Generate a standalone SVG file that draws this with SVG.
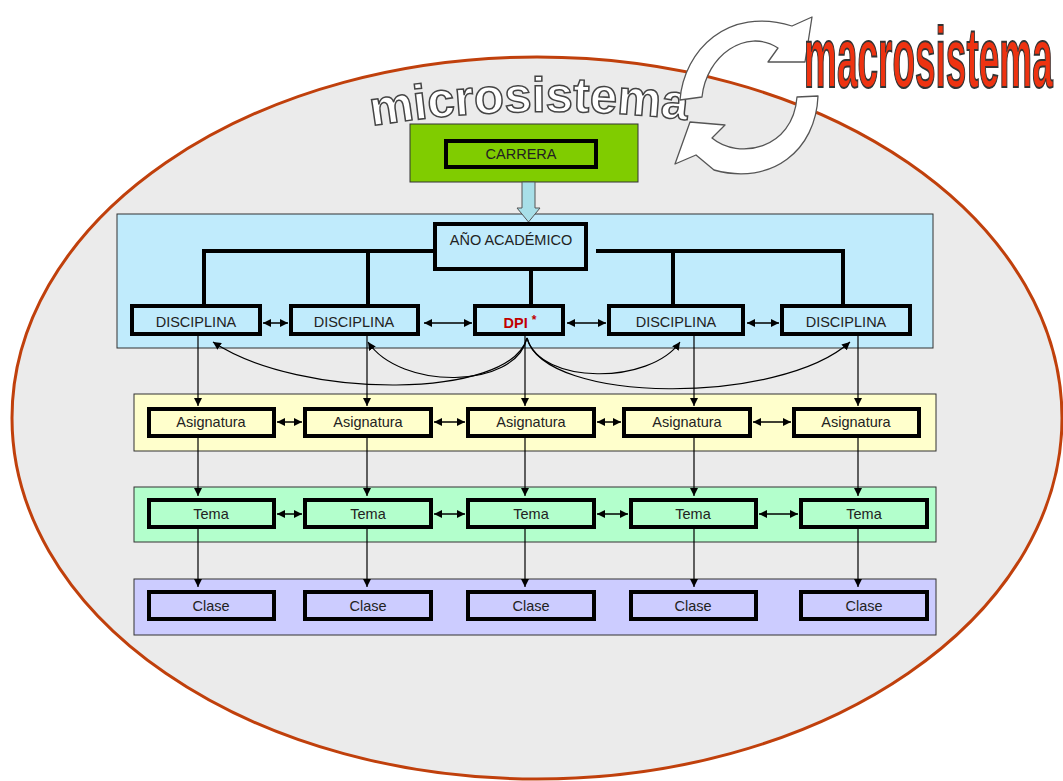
<svg xmlns="http://www.w3.org/2000/svg" width="1063" height="781" viewBox="0 0 1063 781">
<defs>
<marker id="ah" viewBox="0 0 8 8" refX="8" refY="4" markerWidth="8" markerHeight="8" markerUnits="userSpaceOnUse" orient="auto-start-reverse"><path d="M0,0 L8,4 L0,8 z" fill="#000"/></marker>
<path id="arcMicro" d="M 372 126 Q 530 100 694 121"/>
</defs>
<style>
.panel{stroke:#333;stroke-width:1}
.box{stroke:#000;stroke-width:4}
.t{font-family:"Liberation Sans",Arial,sans-serif;font-size:14.5px;fill:#222;text-anchor:middle}
.thick{stroke:#000;stroke-width:4;fill:none}
.dbl{stroke:#000;stroke-width:1.5;fill:none;marker-start:url(#ah);marker-end:url(#ah)}
.down{stroke:#000;stroke-width:1.2;fill:none;marker-end:url(#ah)}
.blue{fill:#c0ebfc}.yel{fill:#ffffcc}.grn{fill:#b3ffcc}.pur{fill:#ccccff}
</style>
<rect width="1063" height="781" fill="#fff"/>
<ellipse cx="537" cy="418" rx="525" ry="361" fill="#ebebeb" stroke="#c0400c" stroke-width="3"/>

<g id="panels">
<rect class="panel blue" x="117" y="214" width="816" height="134"/>
<rect class="panel yel" x="134" y="394" width="802" height="57"/>
<rect class="panel grn" x="134" y="487" width="802" height="55"/>
<rect class="panel pur" x="134" y="579" width="802" height="56"/>
</g>

<g id="carrera">
<rect x="410" y="124" width="228" height="58" fill="#80cc00" stroke="#333" stroke-width="1"/>
<rect class="box" x="446" y="141" width="150" height="26" fill="#80cc00"/>
<text class="t" x="521" y="159">CARRERA</text>
</g>

<g id="connectors">
<path d="M522,182 L535,182 L535,208 L540,208 L528.5,222 L517,208 L522,208 Z" fill="#a8dfe8" stroke="#555" stroke-width="1"/>
<path class="thick" d="M204,304 L204,251 L444,251"/>
<path class="thick" d="M368,251 L368,304"/>
<path class="thick" d="M596,251 L843,251 L843,304"/>
<path class="thick" d="M673,251 L673,304"/>
<path class="thick" d="M531,271 L531,304"/>
<path class="dbl" d="M263,323 L288,323"/>
<path class="dbl" d="M424,323 L472,323"/>
<path class="dbl" d="M567,323 L606,323"/>
<path class="dbl" d="M747,323 L779,323"/>
<path class="down" d="M527,338 C510,400 300,400 213,342"/>
<path class="down" d="M527,338 C515,390 400,390 368,342"/>
<path class="down" d="M527,338 C540,385 650,385 680,342"/>
<path class="down" d="M527,338 C545,405 780,405 850,342"/>
<path class="down" d="M198,336 L198,406"/>
<path class="down" d="M367,336 L367,406"/>
<path class="down" d="M525,336 L525,406"/>
<path class="down" d="M694,336 L694,406"/>
<path class="down" d="M858,336 L858,406"/>
<path class="dbl" d="M277,422 L302,422"/>
<path class="dbl" d="M434,422 L465,422"/>
<path class="dbl" d="M597,422 L621,422"/>
<path class="dbl" d="M753,422 L791,422"/>
<path class="down" d="M198,438 L198,496"/>
<path class="down" d="M367,438 L367,496"/>
<path class="down" d="M525,438 L525,496"/>
<path class="down" d="M694,438 L694,496"/>
<path class="down" d="M858,438 L858,496"/>
<path class="dbl" d="M277,514 L302,514"/>
<path class="dbl" d="M434,514 L465,514"/>
<path class="dbl" d="M597,514 L628,514"/>
<path class="dbl" d="M759,514 L798,514"/>
<path class="down" d="M198,529 L198,587"/>
<path class="down" d="M367,529 L367,587"/>
<path class="down" d="M525,529 L525,587"/>
<path class="down" d="M694,529 L694,587"/>
<path class="down" d="M858,529 L858,587"/>
</g>

<g id="anio">
<rect class="box blue" x="435" y="224" width="151" height="45"/>
<text class="t" x="511" y="245">AÑO ACADÉMICO</text>
</g>

<g id="disciplinas">
<g id="disc1"><rect class="box blue" x="132" y="306" width="128" height="28"/><text class="t" x="196" y="327">DISCIPLINA</text></g>
<g id="disc2"><rect class="box blue" x="291" y="306" width="127" height="28"/><text class="t" x="354" y="327">DISCIPLINA</text></g>
<g id="dpi"><rect class="box blue" x="475" y="306" width="88" height="28"/><text x="520" y="328" text-anchor="middle" font-family="'Liberation Sans',Arial,sans-serif" font-size="14.5px" font-weight="bold" fill="#c00000">DPI <tspan font-size="12px" dy="-4">*</tspan></text></g>
<g id="disc4"><rect class="box blue" x="609" y="306" width="134" height="28"/><text class="t" x="676" y="327">DISCIPLINA</text></g>
<g id="disc5"><rect class="box blue" x="782" y="306" width="128" height="28"/><text class="t" x="846" y="327">DISCIPLINA</text></g>
</g>

<g id="asignaturas">
<g id="asig1"><rect class="box yel" x="149" y="409" width="125" height="27"/><text class="t" x="211" y="427">Asignatura</text></g>
<g id="asig2"><rect class="box yel" x="305" y="409" width="126" height="27"/><text class="t" x="368" y="427">Asignatura</text></g>
<g id="asig3"><rect class="box yel" x="468" y="409" width="126" height="27"/><text class="t" x="531" y="427">Asignatura</text></g>
<g id="asig4"><rect class="box yel" x="624" y="409" width="126" height="27"/><text class="t" x="687" y="427">Asignatura</text></g>
<g id="asig5"><rect class="box yel" x="794" y="409" width="125" height="27"/><text class="t" x="856" y="427">Asignatura</text></g>
</g>

<g id="temas">
<g id="tema1"><rect class="box grn" x="149" y="500" width="125" height="27"/><text class="t" x="211" y="519">Tema</text></g>
<g id="tema2"><rect class="box grn" x="305" y="500" width="126" height="27"/><text class="t" x="368" y="519">Tema</text></g>
<g id="tema3"><rect class="box grn" x="468" y="500" width="126" height="27"/><text class="t" x="531" y="519">Tema</text></g>
<g id="tema4"><rect class="box grn" x="631" y="500" width="125" height="27"/><text class="t" x="693" y="519">Tema</text></g>
<g id="tema5"><rect class="box grn" x="801" y="500" width="126" height="27"/><text class="t" x="864" y="519">Tema</text></g>
</g>

<g id="clases">
<g id="clase1"><rect class="box pur" x="149" y="592" width="125" height="27"/><text class="t" x="211" y="611">Clase</text></g>
<g id="clase2"><rect class="box pur" x="305" y="592" width="126" height="27"/><text class="t" x="368" y="611">Clase</text></g>
<g id="clase3"><rect class="box pur" x="468" y="592" width="126" height="27"/><text class="t" x="531" y="611">Clase</text></g>
<g id="clase4"><rect class="box pur" x="631" y="592" width="125" height="27"/><text class="t" x="693" y="611">Clase</text></g>
<g id="clase5"><rect class="box pur" x="801" y="592" width="126" height="27"/><text class="t" x="864" y="611">Clase</text></g>
</g>

<g id="microsistema">
<text font-family="'Liberation Sans',Arial,sans-serif" font-weight="bold" font-size="49px" fill="#fff" stroke="#444" stroke-width="1.5" letter-spacing="0"><textPath href="#arcMicro">microsistema</textPath></text>
</g>

<g id="ciclo" fill="#fff" stroke="#555" stroke-width="1.3" stroke-linejoin="round">
<path d="M680,100 C684,50 728,6 792,26 L812,17 L805,62 L768,62 L778,48 C746,27 706,56 702,97 Z"/>
<path d="M818,96 C816,150 772,186 714,170 L696,155 L675,164 L690,122 L725,125 L712,138 C738,160 793,150 797,97 Z"/>
</g>

<g id="macrosistema">
<text transform="translate(804,87) scale(0.43,1)" x="0" y="0" font-family="'Liberation Sans',Arial,sans-serif" font-weight="bold" font-size="86px" fill="#ee3311" stroke="#333" stroke-width="2">macrosistema</text>
</g>
</svg>
